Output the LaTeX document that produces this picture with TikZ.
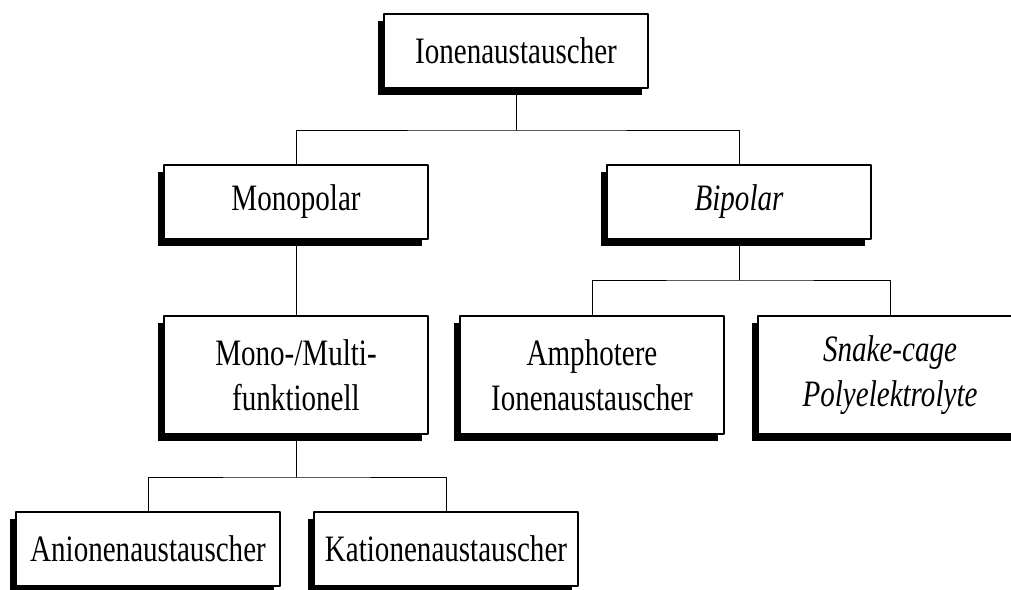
\documentclass[tikz,border=0pt]{standalone}
\usepackage{fontspec}
\setmainfont[FakeStretch=0.78]{Liberation Serif}
\usetikzlibrary{shadows}

\tikzset{
 typbox/.style={draw,line width=0.9pt,fill=white,inner sep=0pt,align=center,
  minimum width=6.6cm,minimum height=1.85cm,
  font=\fontsize{26.5}{32}\selectfont,
  general shadow={fill=black,shadow xshift=-0.15cm,shadow yshift=-0.18cm}},
 hoch/.style={minimum height=2.95cm},
 ast/.style={line width=0.6pt}
}

\begin{document}
\begin{tikzpicture}[x=0.025cm,y=-0.025cm,line cap=round,line join=round]
 \useasboundingbox (0,0) rectangle (1011,590);
 \node[typbox] (ion) at (516,51) {Ionenaustauscher};
 \node[typbox] (mono) at (296,202) {Monopolar};
 \node[typbox] (bi) at (739,202) {\itshape Bipolar};
 \node[typbox,hoch] (multi) at (296,375) {Mono-/Multi-\\funktionell};
 \node[typbox,hoch] (amph) at (592,375) {Amphotere\\Ionenaustauscher};
 \node[typbox,hoch] (snake) at (890,375) {\itshape Snake-cage\\\itshape Polyelektrolyte};
 \node[typbox] (anion) at (148,549) {Anionenaustauscher};
 \node[typbox] (kation) at (446,549) {Kationenaustauscher};
 % Verzweigungen
 \coordinate (k1) at (516,130);
 \coordinate (k2) at (739,280);
 \coordinate (k3) at (296,477);
 \draw[ast] (ion.south) -- (k1);
 \draw[ast] (mono.north) |- (k1) -| (bi.north);
 \draw[ast] (mono.south) -- (multi.north);
 \draw[ast] (bi.south) -- (k2);
 \draw[ast] (amph.north) |- (k2) -| (snake.north);
 \draw[ast] (multi.south) -- (k3);
 \draw[ast] (anion.north) |- (k3) -| (kation.north);
\end{tikzpicture}
\end{document}
